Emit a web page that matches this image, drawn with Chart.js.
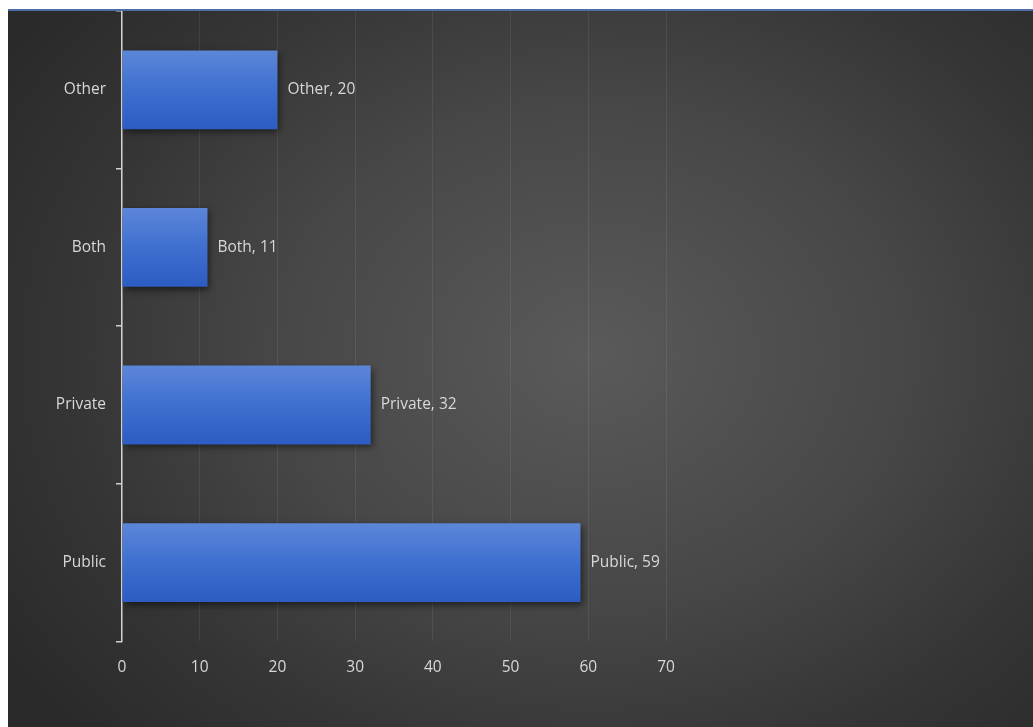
<!DOCTYPE html>
<html>
<head>
<meta charset="utf-8">
<script src="https://cdn.jsdelivr.net/npm/chart.js@4.4.1/dist/chart.umd.min.js"></script>
<style>
  html, body { margin: 0; padding: 0; background: #fff; }
  #caja {
    position: absolute; left: 8px; top: 9px; width: 1025px; height: 716px;
    border-top: 2px solid #4f6ea6;
    background: radial-gradient(ellipse 68% 78% at 57% 48%, #5a5a5a 0%, #474747 45%, #353535 75%, #2a2a2a 100%);
  }
  canvas { display: block; }
</style>
</head>
<body>
<div id="caja"><canvas id="grafico" width="1025" height="716"></canvas></div>
<script>
const categorias = ['Other', 'Both', 'Private', 'Public'];
const valores = [20, 11, 32, 59];
const ticksX = [0, 10, 20, 30, 40, 50, 60, 70];

const fuente = { family: 'Open Sans', size: 15.5 };
const grisTexto = '#d8d8d8';

// degradado por barra, usa la escala y ya calculada
function colorBarra(c) {
    const chart = c.chart;
    const y = chart.scales.y;
    if (!y || y.top == null) return '#4472c4';
    const centro = y.getPixelForValue(c.dataIndex);
    const banda = (y.bottom - y.top) / categorias.length;
    const alto = banda * 0.5;
    const g = chart.ctx.createLinearGradient(0, centro - alto / 2, 0, centro + alto / 2);
    g.addColorStop(0, '#5c86d8');
    g.addColorStop(0.5, '#3f6fd0');
    g.addColorStop(1, '#2d5cc2');
    return g;
}

const sombra = {
    id: 'sombra',
    beforeDatasetsDraw(chart) {
        const ctx = chart.ctx;
        ctx.save();
        ctx.shadowColor = 'rgba(0,0,0,0.55)';
        ctx.shadowBlur = 7;
        ctx.shadowOffsetX = 2;
        ctx.shadowOffsetY = 3;
    },
    afterDatasetsDraw(chart) {
        chart.ctx.restore();
        // etiquetas "Categoria, valor"
        const ctx = chart.ctx;
        const meta = chart.getDatasetMeta(0);
        ctx.save();
        ctx.font = '15.5px "Open Sans"';
        ctx.fillStyle = grisTexto;
        ctx.textAlign = 'left';
        ctx.textBaseline = 'middle';
        meta.data.forEach((barra, i) => {
            ctx.fillText(categorias[i] + ', ' + valores[i], barra.x + 10, barra.y);
        });
        ctx.restore();
    }
};

new Chart(document.getElementById('grafico').getContext('2d'), {
    type: 'bar',
    data: {
        labels: categorias,
        datasets: [{
            data: valores,
            backgroundColor: colorBarra,
            borderWidth: 0,
            categoryPercentage: 0.5,
            barPercentage: 1
        }]
    },
    options: {
        indexAxis: 'y',
        responsive: false,
        animation: false,
        layout: { padding: { left: 0, right: 367, top: 0, bottom: 33 } },
        plugins: { legend: { display: false }, tooltip: { enabled: false } },
        scales: {
            x: {
                min: 0, max: 70,
                afterBuildTicks: s => { s.ticks = ticksX.map(v => ({ value: v })); },
                grid: { color: 'rgba(255,255,255,0.075)', lineWidth: 1, drawTicks: false },
                border: { display: false },
                ticks: { color: grisTexto, font: fuente, padding: 17 }
            },
            y: {
                afterFit: s => { s.width = 114; s.paddingTop = 0; s.paddingBottom = 0; },
                grid: { offset: true, drawOnChartArea: false, color: '#d0d0d0', tickLength: 6, lineWidth: 1.5 },
                border: { color: '#d0d0d0', width: 1.5 },
                ticks: { color: grisTexto, font: fuente, padding: 10 }
            }
        }
    },
    plugins: [sombra]
});
</script>
</body>
</html>
